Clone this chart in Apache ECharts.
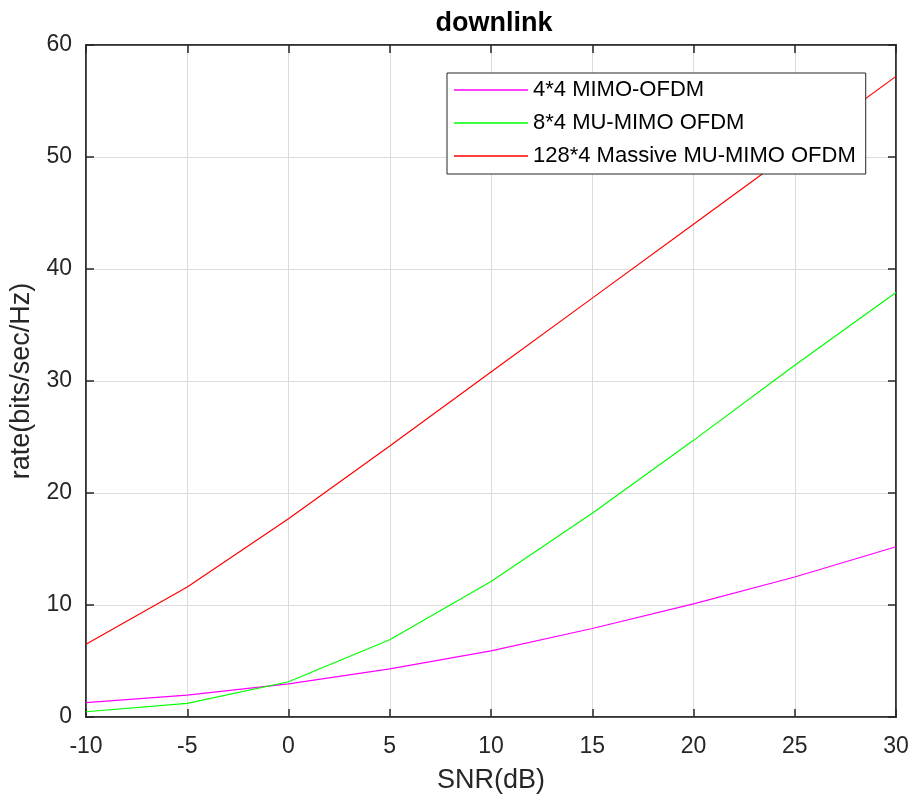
<!DOCTYPE html>
<html><head><meta charset="utf-8">
<script src="https://cdn.jsdelivr.net/npm/echarts@6/dist/echarts.min.js"></script>
<style>html,body{margin:0;padding:0;background:#fff}#c{width:913px;height:801px}</style>
</head><body><div id="c"></div>
<script>
const snr = [-10, -5, 0, 5, 10, 15, 20, 25, 30];
const mimo44 = [1.28, 1.96, 2.95, 4.3, 5.9, 7.9, 10.1, 12.5, 15.2];
const mumimo84 = [0.47, 1.22, 3.15, 6.9, 12.1, 18.2, 24.7, 31.4, 37.9];
const massive1284 = [6.5, 11.6, 17.7, 24.2, 30.8, 37.4, 44.0, 50.6, 57.2];
const names = ['4*4 MIMO-OFDM', '8*4 MU-MIMO OFDM', '128*4 Massive MU-MIMO OFDM'];
const colors = ['#ff00ff', '#00ff00', '#ff0000'];

const font = 'Liberation Sans, Arial, Helvetica, sans-serif';
const axisCol = '#262626';
const chart = echarts.init(document.getElementById('c'));
const pair = (xs, ys) => xs.map((x, i) => [x, ys[i]]);
const mk = (name, data, color) => ({
  name, type: 'line', data, symbol: 'none', xAxisIndex: 0, yAxisIndex: 0,
  lineStyle: { color, width: 1.2 }, itemStyle: { color }, animation: false
});
chart.setOption({
  animation: false,
  title: { text: 'downlink', left: 489, top: 5, textAlign: 'center',
    textStyle: { fontFamily: font, fontSize: 27, fontWeight: 'bold', color: '#000' } },
  grid: { left: 86, right: 17, top: 45, bottom: 84, show: true, borderColor: axisCol, borderWidth: 1.5, backgroundColor: '#fff' },
  legend: {
    orient: 'vertical', left: 447, top: 73, data: names,
    icon: 'rect', itemWidth: 74, itemHeight: 1.5, itemGap: 9,
    padding: [5, 10, 6, 7], borderColor: axisCol, borderWidth: 1, backgroundColor: '#fff',
    textStyle: { fontFamily: font, fontSize: 22, color: '#000', lineHeight: 24 }
  },
  xAxis: [{
    type: 'value', min: -10, max: 30, interval: 5, position: 'bottom',
    name: 'SNR(dB)', nameLocation: 'middle', nameGap: 50,
    nameTextStyle: { fontFamily: font, fontSize: 27, color: axisCol },
    axisLine: { show: true, onZero: false, lineStyle: { color: axisCol, width: 1.5 } },
    axisTick: { show: true, inside: true, length: 8, lineStyle: { color: axisCol, width: 1.5 } },
    axisLabel: { fontFamily: font, fontSize: 23, color: axisCol, margin: 18 },
    splitLine: { show: true, lineStyle: { color: '#dcdcdc', width: 1 } }
  }, {
    type: 'value', min: -10, max: 30, interval: 5, position: 'top',
    axisLine: { show: true, onZero: false, lineStyle: { color: axisCol, width: 1.5 } },
    axisTick: { show: true, inside: true, length: 8, lineStyle: { color: axisCol, width: 1.5 } },
    axisLabel: { show: false }, splitLine: { show: false }
  }],
  yAxis: [{
    type: 'value', min: 0, max: 60, interval: 10, position: 'left',
    name: 'rate(bits/sec/Hz)', nameLocation: 'middle', nameGap: 43,
    nameTextStyle: { fontFamily: font, fontSize: 27, color: axisCol },
    axisLine: { show: true, onZero: false, lineStyle: { color: axisCol, width: 1.5 } },
    axisTick: { show: true, inside: true, length: 8, lineStyle: { color: axisCol, width: 1.5 } },
    axisLabel: { fontFamily: font, fontSize: 23, color: axisCol, margin: 14 },
    splitLine: { show: true, lineStyle: { color: '#dcdcdc', width: 1 } }
  }, {
    type: 'value', min: 0, max: 60, interval: 10, position: 'right',
    axisLine: { show: true, onZero: false, lineStyle: { color: axisCol, width: 1.5 } },
    axisTick: { show: true, inside: true, length: 8, lineStyle: { color: axisCol, width: 1.5 } },
    axisLabel: { show: false }, splitLine: { show: false }
  }],
  series: [
    mk(names[0], pair(snr, mimo44), colors[0]),
    mk(names[1], pair(snr, mumimo84), colors[1]),
    mk(names[2], pair(snr, massive1284), colors[2])
  ]
});
</script></body></html>
